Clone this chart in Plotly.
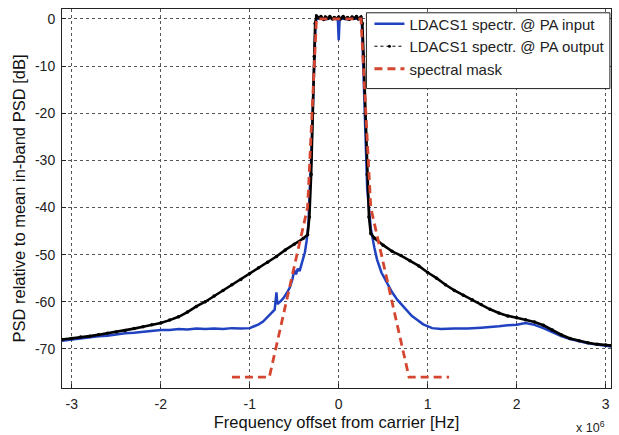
import plotly.graph_objects as go

# ---- data (frequency offset in MHz, PSD in dB) ----
f_in = [-3.11, -3.0, -2.9, -2.8, -2.7, -2.6, -2.5, -2.4, -2.3, -2.2, -2.1, -2.0, -1.9, -1.8, -1.7,
        -1.6, -1.5, -1.4, -1.3, -1.2, -1.1, -1.0, -0.95, -0.9, -0.85, -0.80, -0.75, -0.72, -0.70,
        -0.69, -0.66, -0.62, -0.58, -0.55, -0.52, -0.50, -0.48, -0.46, -0.44, -0.42, -0.40, -0.38,
        -0.36, -0.34, -0.33, -0.31, -0.29, -0.27, -0.26, -0.25, -0.2, -0.15, -0.1, -0.05, -0.01,
        0.0, 0.01, 0.05, 0.1, 0.15, 0.2, 0.25, 0.26, 0.27, 0.29, 0.31, 0.32, 0.34, 0.36, 0.40,
        0.43, 0.48, 0.54, 0.60, 0.66, 0.70, 0.76, 0.82, 0.88, 0.95, 1.05, 1.15, 1.3, 1.45, 1.6,
        1.7, 1.8, 1.9, 2.0, 2.1, 2.2, 2.3, 2.4, 2.5, 2.6, 2.7, 2.8, 2.9, 3.0, 3.06]
psd_in = [-68.3, -68.0, -67.8, -67.6, -67.3, -67.2, -66.9, -66.7, -66.6, -66.4, -66.2, -66.0, -66.0,
          -65.8, -65.9, -65.7, -65.8, -65.7, -65.8, -65.6, -65.7, -65.6, -65.2, -64.8, -64.2, -63.2,
          -62.3, -61.7, -58.0, -60.5, -60.0, -59.2, -58.0, -57.0, -55.2, -53.3, -54.2, -53.0, -53.5,
          -52.0, -50.5, -49.5, -47.0, -43.5, -38.0, -30.0, -18.0, -6.0, -1.0, 0.0, 0.1, -0.1, 0.2,
          0.0, 0.0, -4.5, 0.0, 0.1, -0.1, 0.1, 0.0, 0.0, -1.0, -6.0, -18.0, -30.0, -36.0, -41.0,
          -44.4, -48.5, -51.0, -53.8, -56.0, -58.0, -59.6, -60.4, -61.8, -63.0, -63.8, -64.8, -65.6,
          -65.8, -65.7, -65.7, -65.5, -65.4, -65.2, -65.0, -64.9, -64.5, -64.9, -65.6, -66.5, -67.3,
          -67.9, -68.4, -68.8, -69.1, -69.4, -69.5]

f_out = [-3.11, -3.0, -2.9, -2.8, -2.7, -2.6, -2.5, -2.4, -2.3, -2.2, -2.1, -2.0, -1.9, -1.8, -1.7,
         -1.6, -1.5, -1.4, -1.3, -1.2, -1.1, -1.0, -0.9, -0.8, -0.7, -0.6, -0.5, -0.4, -0.35, -0.33,
         -0.31, -0.29, -0.275, -0.265, -0.25, -0.22, -0.2, -0.17, -0.15, -0.12, -0.1, -0.07, -0.05,
         -0.02, 0.0, 0.02, 0.05, 0.07, 0.1, 0.12, 0.15, 0.17, 0.2, 0.22, 0.25, 0.265, 0.28, 0.30,
         0.32, 0.34, 0.36, 0.40, 0.5, 0.6, 0.7, 0.8, 0.9, 1.0, 1.1, 1.2, 1.3, 1.4, 1.5, 1.6, 1.7,
         1.8, 1.9, 2.0, 2.1, 2.2, 2.3, 2.4, 2.5, 2.6, 2.7, 2.8, 2.9, 3.0, 3.06]
psd_out = [-68.0, -67.8, -67.5, -67.3, -67.0, -66.7, -66.4, -66.1, -65.7, -65.3, -64.9, -64.5, -63.9,
           -63.2, -62.2, -61.0, -60.0, -58.8, -57.6, -56.4, -55.3, -54.0, -52.8, -51.6, -50.4, -49.0,
           -47.8, -46.6, -45.8, -42.0, -33.0, -20.0, -8.0, -1.0, 0.6, 0.2, 0.5, -0.1, 0.4, 0.1, 0.5,
           0.0, 0.3, 0.1, 0.4, 0.0, 0.5, 0.1, 0.3, -0.1, 0.4, 0.1, 0.5, 0.0, 0.4, -1.0, -8.0, -20.0,
           -33.0, -42.0, -45.5, -46.5, -48.0, -49.3, -50.2, -51.3, -52.4, -53.8, -55.0, -56.4, -57.6,
           -58.6, -59.6, -60.6, -61.6, -62.4, -63.0, -63.4, -63.8, -64.3, -65.0, -66.0, -67.0, -67.8,
           -68.3, -68.7, -69.0, -69.2, -69.3]

f_mask = [-1.2, -0.78, -0.35, -0.25, 0.25, 0.36, 0.79, 1.24]
psd_mask = [-76, -76, -40, 0, 0, -40, -76, -76]

x_ticks = [-3, -2, -1, 0, 1, 2, 3]
x_tick_labels = ["-3", "-2", "-1", "0", "1", "2", "3"]
y_ticks = [0, -10, -20, -30, -40, -50, -60, -70]
y_tick_labels = ["0", "-10", "-20", "-30", "-40", "-50", "-60", "-70"]

names = ["LDACS1 spectr. @ PA input", "LDACS1 spectr. @ PA output", "spectral mask"]

BLUE = "#2142C0"
RED = "#D4462F"
FONT = "Liberation Sans, Arial, sans-serif"

fig = go.Figure()
fig.add_trace(go.Scatter(x=f_in, y=psd_in, mode="lines", name=names[0],
                         line=dict(color=BLUE, width=2.5)))
fig.add_trace(go.Scatter(x=f_out, y=psd_out, mode="lines+markers", name=names[1], showlegend=False,
                         line=dict(color="black", width=2.6),
                         marker=dict(color="black", size=3.5)))
# legend entry for the output spectrum (dotted line with point marker)
fig.add_trace(go.Scatter(x=[None], y=[None], mode="lines+markers", name=names[1],
                         line=dict(color="black", width=1, dash="dot"),
                         marker=dict(color="black", size=3)))
fig.add_trace(go.Scatter(x=f_mask, y=psd_mask, mode="lines", name=names[2],
                         line=dict(color=RED, width=2.8, dash="8px,5px")))

axis_common = dict(
    showline=True, linecolor="#222", linewidth=1, mirror=True,
    ticks="inside", ticklen=4, tickcolor="#222", ticklabelstandoff=3,
    showgrid=True, gridcolor="#555", gridwidth=1, griddash="dot",
    zeroline=False, tickfont=dict(family=FONT, size=14, color="#222"),
)

fig.update_layout(
    width=619, height=435,
    margin=dict(l=62, r=7, t=7, b=42),
    paper_bgcolor="white", plot_bgcolor="white",
    font=dict(family=FONT, color="#222"),
    xaxis=dict(range=[-3.11, 3.06], tickvals=x_ticks, ticktext=x_tick_labels,
               title=dict(text="Frequency offset from carrier [Hz]",
                          font=dict(family=FONT, size=16.5, color="#111"), standoff=5),
               **axis_common),
    yaxis=dict(range=[-78.3, 2.1], tickvals=y_ticks, ticktext=y_tick_labels,
               title=dict(text="PSD relative to mean in-band PSD [dB]",
                          font=dict(family=FONT, size=16.5, color="#111"), standoff=5),
               **axis_common),
    showlegend=True,
    legend=dict(x=0.56, y=1.004, xanchor="left", yanchor="top",
                bgcolor="rgba(0,0,0,0)", borderwidth=0,
                font=dict(family=FONT, size=15, color="#222"),
                tracegroupgap=0),
    shapes=[dict(type="rect", xref="paper", yref="paper",
                 x0=0.5545, x1=0.998, y0=0.79, y1=0.99,
                 line=dict(color="#222", width=1), fillcolor="white", layer="above")],
    annotations=[dict(text="x 10<sup>6</sup>", xref="paper", yref="paper",
                      x=0.993, y=-0.076, xanchor="right", yanchor="top", showarrow=False,
                      font=dict(family=FONT, size=12.5, color="#222"))],
)

fig.write_html("out.html", config={"displayModeBar": False},
               post_script="document.body.style.margin='0';document.body.style.padding='0';")
